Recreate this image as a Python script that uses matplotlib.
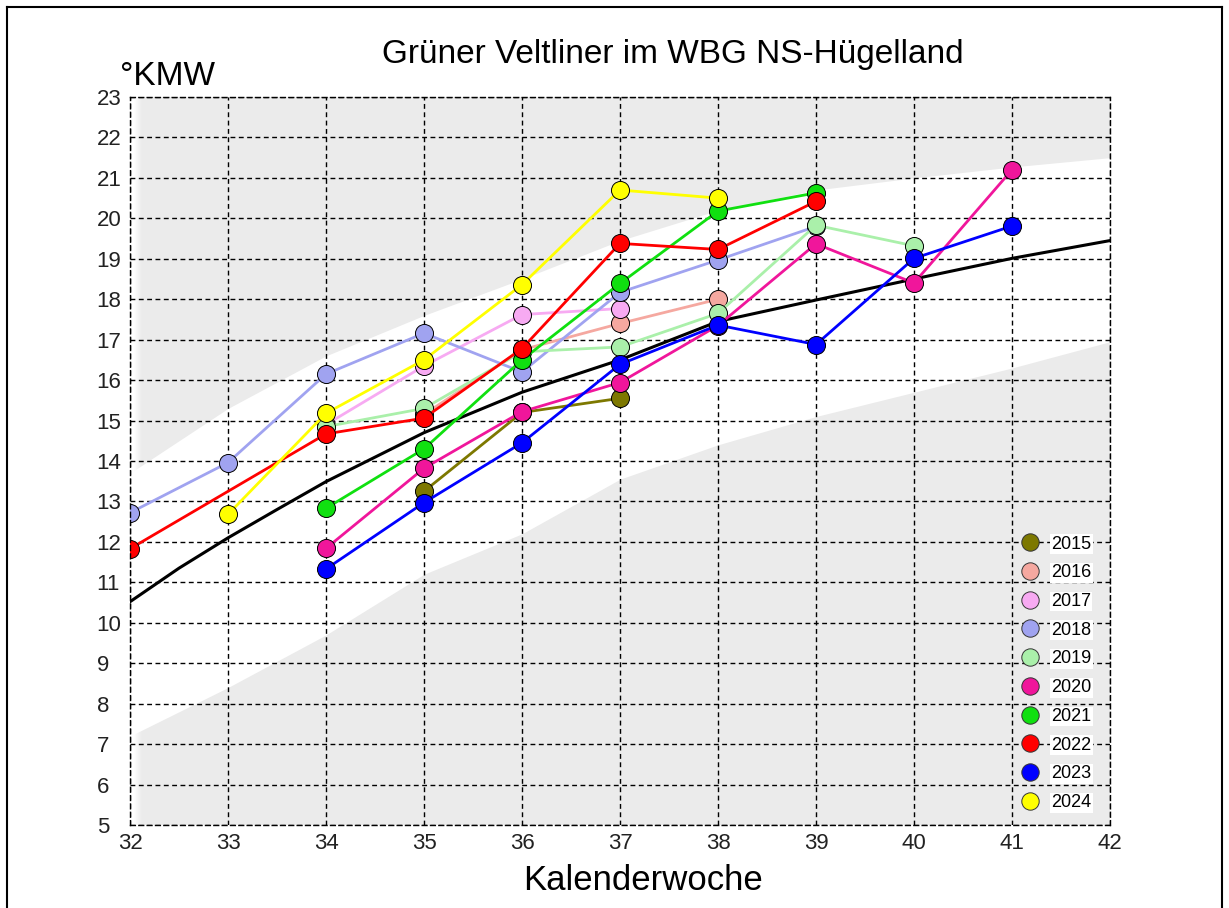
import numpy as np
import matplotlib.pyplot as plt
from matplotlib.lines import Line2D

plt.rcParams['font.family'] = ['Liberation Sans', 'DejaVu Sans']

# Kalenderwochen und Mostgewicht (°KMW) je Jahrgang
years = ['2015', '2016', '2017', '2018', '2019', '2020', '2021', '2022', '2023', '2024']
colors = ['#7d7800', '#f5a8a0', '#f7aaf2', '#a0a3f0', '#aaf0aa',
          '#f0169b', '#10e010', '#ff0000', '#0000ff', '#ffff00']

weeks = {
    '2015': [35, 36, 37],
    '2016': [35, 36, 37, 38],
    '2017': [34, 35, 36, 37],
    '2018': [32, 33, 34, 35, 36, 37, 38, 39],
    '2019': [34, 35, 36, 37, 38, 39, 40],
    '2020': [34, 35, 36, 37, 38, 39, 40, 41],
    '2021': [34, 35, 36, 37, 38, 39],
    '2022': [32, 34, 35, 36, 37, 38, 39],
    '2023': [34, 35, 36, 37, 38, 39, 40, 41],
    '2024': [33, 34, 35, 36, 37, 38],
}
kmw = {
    '2015': [13.25, 15.2, 15.55],
    '2016': [15.15, 16.75, 17.4, 18.0],
    '2017': [14.9, 16.35, 17.62, 17.77],
    '2018': [12.72, 13.96, 16.15, 17.16, 16.2, 18.17, 18.97, 19.8],
    '2019': [14.85, 15.3, 16.7, 16.82, 17.65, 19.83, 19.32],
    '2020': [11.84, 13.82, 15.22, 15.94, 17.35, 19.37, 18.4, 21.2],
    '2021': [12.83, 14.3, 16.5, 18.39, 20.18, 20.63],
    '2022': [11.83, 14.67, 15.06, 16.78, 19.38, 19.23, 20.42],
    '2023': [11.33, 12.97, 14.45, 16.39, 17.36, 16.88, 19.01, 19.81],
    '2024': [12.68, 15.18, 16.5, 18.36, 20.7, 20.5],
}

# mittlere Reifekurve und Streubereich
curve_weeks = [32, 32.5, 33, 33.5, 34, 35, 36, 37, 38, 39, 40, 41, 42]
curve_kmw = [10.52, 11.35, 12.1, 12.8, 13.49, 14.7, 15.7, 16.5, 17.45, 17.98, 18.5, 19.01, 19.45]

band_weeks = [32, 33, 34, 35, 36, 37, 38, 39, 40, 41, 42]
band_low = [7.2, 8.4, 9.7, 11.2, 12.2, 13.55, 14.4, 15.1, 15.7, 16.3, 16.95]
band_high = [13.7, 15.3, 16.6, 17.6, 18.5, 19.45, 20.2, 20.7, 21.0, 21.27, 21.5]

fig = plt.figure(figsize=(12.29, 9.08), dpi=100)
ax = fig.add_axes([130 / 1229, 1 - 825 / 908, 980 / 1229, 728 / 908])
ax.set_facecolor('#ebebeb')

ax.fill_between(band_weeks, band_low, band_high, color='white', lw=0, zorder=0.2)
# heller Verlauf am linken Rand
grad = np.ones((1, 2, 4))
grad[0, 1, 3] = 0
ax.imshow(grad, extent=(32, 32.16, 5, 23), aspect='auto', interpolation='bilinear', zorder=0.3)

ax.plot(curve_weeks, curve_kmw, color='black', lw=2.2, zorder=1)

for yr, c in zip(years, colors):
    ax.plot(weeks[yr], kmw[yr], color=c, lw=2, marker='o', markersize=13,
            markeredgecolor='black', markeredgewidth=0.7, zorder=2, label=yr)

ax.set_xlim(32, 42)
ax.set_ylim(5, 23)
ax.set_xticks(range(32, 43))
ax.set_yticks(range(5, 24))
ax.set_axisbelow(True)
ax.grid(True, color='black', linestyle=(0, (3.5, 2.5)), lw=1)
for s in ax.spines.values():
    s.set_linestyle((0, (3.5, 2.5)))
    s.set_linewidth(1)
ax.tick_params(length=0, labelsize=16, colors='#222222')
ax.tick_params(axis='x', pad=6)
ax.tick_params(axis='y', pad=24)
for lab in ax.get_yticklabels():
    lab.set_horizontalalignment('left')

handles = [Line2D([], [], ls='none', marker='o', markersize=12.5, markerfacecolor=c,
                  markeredgecolor='#333333', markeredgewidth=0.7) for c in colors]
leg = ax.legend(handles, years, loc='upper left', bbox_to_anchor=(0.902, 0.41),
                frameon=False, fontsize=13, handlelength=0.8, handletextpad=0.75,
                labelspacing=0.65, borderpad=0)
for t in leg.get_texts():
    t.set_bbox(dict(facecolor='white', edgecolor='none', pad=1))

fig.text(673 / 1229, 1 - 55 / 908, 'Grüner Veltliner im WBG NS-Hügelland',
         ha='center', va='center', fontsize=24)
fig.text(120 / 1229, 1 - 85 / 908, '°KMW', ha='left', va='baseline', fontsize=24)
fig.text(643 / 1229, 1 - 880 / 908, 'Kalenderwoche', ha='center', va='center', fontsize=25)

# Rahmen um die Grafik
for xs, ys in [([7, 7], [0, 901]), ([7, 1222], [901, 901]), ([1222, 1222], [0, 901])]:
    fig.add_artist(Line2D([x / 1229 for x in xs], [y / 908 for y in ys],
                          color='black', lw=1.5))

fig.savefig('out.png', dpi=100)
